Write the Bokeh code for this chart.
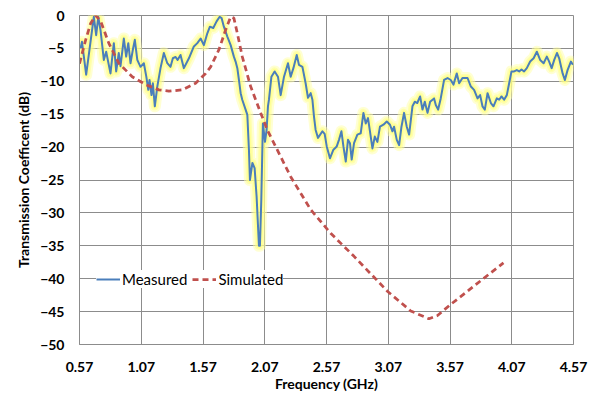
from bokeh.plotting import figure
from bokeh.models import Range1d, FixedTicker, PrintfTickFormatter, Legend, LegendItem
from bokeh.embed import file_html
from bokeh.resources import INLINE

# ---- data ----
meas_f = [0.578, 0.590, 0.624, 0.686, 0.705, 0.722, 0.740, 0.767, 0.786, 0.821,
          0.848, 0.867, 0.888, 0.902, 0.929, 0.948, 0.965, 0.983, 1.002, 1.018,
          1.038, 1.064, 1.091, 1.111, 1.127, 1.137, 1.153, 1.164, 1.180, 1.200,
          1.226, 1.253, 1.281, 1.307, 1.326, 1.348, 1.364, 1.388, 1.415, 1.456,
          1.496, 1.524, 1.551, 1.577, 1.605, 1.626, 1.653, 1.680, 1.705, 1.721,
          1.739, 1.767, 1.794, 1.820, 1.834, 1.848, 1.861, 1.875, 1.888, 1.915,
          1.929, 1.942, 1.950, 1.970, 1.988, 2.004, 2.023, 2.031, 2.042, 2.055,
          2.072, 2.085, 2.096, 2.104, 2.124, 2.150, 2.177, 2.199, 2.226, 2.258,
          2.280, 2.302, 2.329, 2.347, 2.375, 2.401, 2.420, 2.442, 2.456, 2.469,
          2.482, 2.501, 2.537, 2.555, 2.572, 2.598, 2.626, 2.653, 2.671, 2.691,
          2.707, 2.726, 2.744, 2.760, 2.774, 2.793, 2.820, 2.847, 2.869, 2.888,
          2.906, 2.922, 2.942, 2.961, 2.982, 3.003, 3.031, 3.058, 3.084, 3.104,
          3.117, 3.139, 3.158, 3.177, 3.198, 3.220, 3.239, 3.266, 3.285, 3.305,
          3.328, 3.347, 3.366, 3.388, 3.409, 3.441, 3.455, 3.474, 3.495, 3.522,
          3.550, 3.576, 3.598, 3.625, 3.644, 3.671, 3.712, 3.739, 3.765, 3.793,
          3.814, 3.833, 3.852, 3.874, 3.901, 3.922, 3.949, 3.968, 3.987, 4.008,
          4.030, 4.049, 4.068, 4.089, 4.111, 4.130, 4.149, 4.170, 4.192, 4.219,
          4.247, 4.273, 4.300, 4.328, 4.354, 4.373, 4.393, 4.414, 4.436, 4.454,
          4.482, 4.500, 4.522, 4.549, 4.565]
meas_db = [-5.0, -4.0, -9.0, -0.2, -3.0, -0.2, -2.2, -6.75, -5.5, -8.8,
           -4.2, -8.5, -5.7, -7.7, -3.5, -6.25, -4.2, -7.25, -5.2, -3.7,
           -6.75, -7.8, -7.25, -9.3, -11.3, -9.8, -12.1, -10.3, -13.8, -10.8,
           -8.0, -5.7, -7.25, -7.8, -6.5, -6.3, -6.75, -6.0, -8.0, -6.5,
           -4.7, -4.2, -3.5, -4.5, -2.7, -1.7, -1.9, -0.9, -0.2, -0.4,
           -1.7, -3.2, -4.5, -6.25, -7.0, -8.0, -9.8, -11.8, -12.8, -14.3,
           -15.1, -20.4, -25.0, -22.4, -23.2, -27.5, -35.0, -35.0, -28.0, -16.4,
           -19.2, -17.4, -13.8, -12.8, -9.3, -8.5, -9.3, -12.1, -9.3, -7.25,
           -9.3, -8.0, -6.0, -7.5, -7.8, -10.3, -12.5, -11.8, -12.8, -15.4,
           -17.4, -18.6, -17.6, -18.0, -19.9, -21.7, -20.4, -19.9, -18.9, -17.6,
           -19.9, -22.2, -18.9, -19.4, -21.9, -19.4, -18.1, -17.9, -14.8, -16.4,
           -15.6, -17.6, -20.2, -18.4, -19.2, -16.9, -16.6, -16.1, -16.6, -17.6,
           -16.9, -18.9, -19.7, -16.9, -14.8, -16.9, -18.1, -13.8, -13.1, -13.3,
           -12.3, -14.3, -13.1, -14.8, -13.1, -12.6, -13.6, -14.3, -12.6, -9.8,
           -9.5, -9.8, -10.5, -8.8, -10.3, -9.5, -9.5, -10.8, -11.3, -12.6,
           -12.1, -13.8, -14.3, -11.8, -13.3, -13.8, -12.6, -12.8, -12.3, -12.8,
           -12.1, -10.3, -8.5, -8.5, -8.3, -8.5, -8.2, -8.5, -8.0, -7.0,
           -6.5, -5.5, -6.75, -7.25, -6.25, -7.0, -8.0, -6.75, -5.7, -6.5,
           -8.8, -9.8, -8.3, -7.0, -7.5]

sim_f = [0.570, 0.620, 0.660, 0.700, 0.740, 0.807, 0.888, 0.997, 1.105, 1.213,
         1.294, 1.402, 1.510, 1.591, 1.632, 1.699, 1.753, 1.794, 1.820, 1.848,
         1.888, 1.956, 2.037, 2.091, 2.280, 2.442, 2.604, 2.793, 3.063, 3.252,
         3.400, 3.469, 3.576, 3.712, 3.846, 4.003]
sim_db = [-7.3, -3.7, -1.2, 0.0, -0.8, -4.2, -7.25, -9.3, -10.5, -11.3,
          -11.5, -11.3, -10.3, -8.8, -7.8, -5.2, -2.2, -0.2, -0.4, -2.7,
          -6.25, -10.8, -14.8, -17.4, -24.5, -29.5, -33.1, -36.6, -41.9, -44.9,
          -46.1, -45.6, -43.9, -41.9, -39.9, -37.6]

x_ticks = [0.57, 1.07, 1.57, 2.07, 2.57, 3.07, 3.57, 4.07, 4.57]
y_ticks = [0, -5, -10, -15, -20, -25, -30, -35, -40, -45, -50]

FONT = "Lato"
GRID = "#8c8c8c"

p = figure(width=593, height=394, output_backend="svg", toolbar_location=None,
           x_range=Range1d(0.57, 4.57), y_range=Range1d(-50, 0))
p.min_border_left = 79
p.min_border_right = 20
p.min_border_top = 15
p.min_border_bottom = 49
p.outline_line_color = GRID
p.background_fill_color = "white"
p.border_fill_color = "white"

# soft yellow glow under measured curve
p.line(meas_f, meas_db, line_width=12, color="#ffffa8", alpha=0.5, line_join="round")
p.line(meas_f, meas_db, line_width=8, color="#ffff88", alpha=0.5, line_join="round")
p.line(meas_f, meas_db, line_width=5, color="#ffff66", alpha=0.4, line_join="round")
r_meas = p.line(meas_f, meas_db, line_width=2, color="#4a7ebb", line_join="round")
r_sim = p.line(sim_f, sim_db, line_width=2.75, color="#c0504d", line_dash="6 4")

for ax in (p.xaxis[0], p.yaxis[0]):
    ax.axis_line_color = GRID
    ax.major_tick_line_color = None
    ax.minor_tick_line_color = None
    ax.major_label_text_font = FONT
    ax.major_label_text_font_style = "bold"
    ax.major_label_text_font_size = "14px"
    ax.major_label_text_color = "#000000"
    ax.axis_label_text_font = FONT
    ax.axis_label_text_font_style = "bold"
    ax.axis_label_text_font_size = "14px"
    ax.axis_label_text_color = "#000000"

p.xaxis.ticker = FixedTicker(ticks=x_ticks)
p.xaxis.formatter = PrintfTickFormatter(format="%.2f")
p.xaxis.axis_label = "Frequency (GHz)"
p.xaxis.major_label_standoff = 11
p.xaxis.axis_label_standoff = 0

p.yaxis.ticker = FixedTicker(ticks=y_ticks)
p.yaxis.axis_label = "Transmission Coefficent (dB)"
p.yaxis.major_label_standoff = 9
p.yaxis.axis_label_standoff = 5

p.xgrid.ticker = FixedTicker(ticks=x_ticks)
p.ygrid.ticker = FixedTicker(ticks=y_ticks)
p.xgrid.grid_line_color = GRID
p.ygrid.grid_line_color = GRID

legend = Legend(items=[LegendItem(label="Measured", renderers=[r_meas]),
                       LegendItem(label="Simulated", renderers=[r_sim])],
                orientation="horizontal", location=(17, 56),
                background_fill_color="white", background_fill_alpha=1.0,
                border_line_color=None, padding=8, spacing=5, margin=0,
                glyph_width=24, glyph_height=16, label_standoff=2,
                label_text_font=FONT, label_text_font_size="15px",
                label_text_color="#000000", label_height=16)
p.add_layout(legend)

open("out.html", "w").write(file_html(p, INLINE))
